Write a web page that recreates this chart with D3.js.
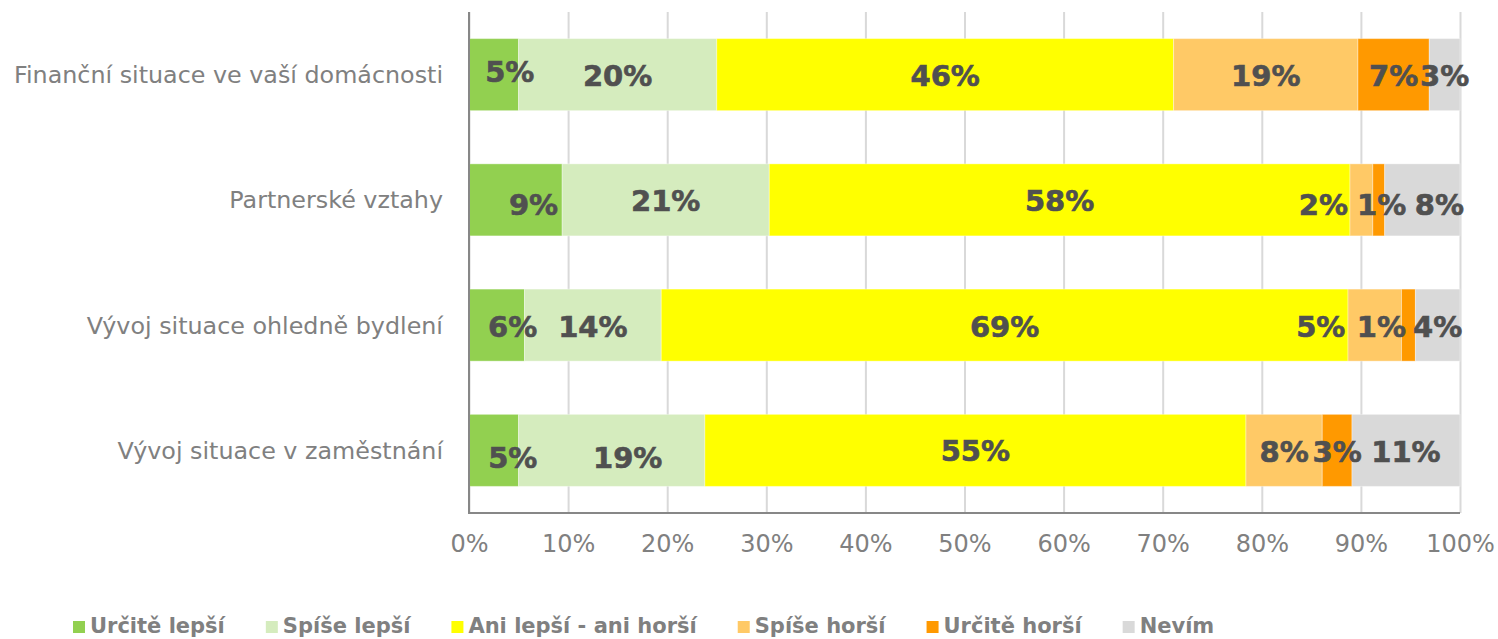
<!DOCTYPE html>
<html><head><meta charset="utf-8">
<script src="https://cdn.jsdelivr.net/npm/d3@7"></script>
<style>body{margin:0;background:#fff}svg{display:block}</style>
</head><body><svg id="c" width="1498" height="639"></svg>
<script>
const categories = ["Finanční situace ve vaší domácnosti","Partnerské vztahy","Vývoj situace ohledně bydlení","Vývoj situace v zaměstnání"];
const seriesNames = ["Určitě lepší","Spíše lepší","Ani lepší - ani horší","Spíše horší","Určitě horší","Nevím"];
const seriesColors = ["#92d050","#d5ecbe","#ffff00","#ffc966","#ff9900","#d9d9d9"];
const urciteLepsi = [5.0, 9.4, 5.6, 5.0];
const spiseLepsi  = [20.0, 20.9, 13.8, 18.8];
const aniLepsiAniHorsi = [46.1, 58.6, 69.3, 54.6];
const spiseHorsi  = [18.6, 2.3, 5.4, 7.7];
const urciteHorsi = [7.2, 1.2, 1.4, 3.0];
const nevim       = [3.1, 7.6, 4.5, 10.9];
const labelTexts = [
  ["5%","20%","46%","19%","7%","3%"],
  ["9%","21%","58%","2%","1%","8%"],
  ["6%","14%","69%","5%","1%","4%"],
  ["5%","19%","55%","8%","3%","11%"]
];
const tickValues = [0,10,20,30,40,50,60,70,80,90,100];
// label nudges (px) reproducing the reference's manual label placement
const labelNudge = [
  [[16,-4],[0,0],[0,0],[0,0],[0,0],[0,0]],
  [[18,4],[0,0],[0,0],[-38,4],[3,4],[17,4]],
  [[16,1],[0,1],[0,1],[-54,1],[-27,1],[0,1]],
  [[19,7],[16,7],[0,0],[0,1],[0,1],[0,1]]
];

(function(){
const seriesValues = [urciteLepsi, spiseLepsi, aniLepsiAniHorsi, spiseHorsi, urciteHorsi, nevim];
const rows = categories.map((c,i)=>{
  const r = {cat:c};
  seriesNames.forEach((s,j)=> r[s] = seriesValues[j][i]);
  return r;
});
const stack = d3.stack().keys(seriesNames)(rows);

const svg = d3.select("#c");
const pL = 469, pR = 1460, pT = 12, pB = 513;
const x = d3.scaleLinear().domain([0,100]).range([pL,pR]);
const y = d3.scaleBand().domain(categories).range([pT,pB]).paddingInner(0.425).paddingOuter(0.2125);
const color = d3.scaleOrdinal().domain(seriesNames).range(seriesColors);
const FONT = "DejaVu Sans, Verdana, sans-serif";

// grid + x axis
const xAxis = d3.axisBottom(x).tickValues(tickValues).tickSize(-(pB-pT)).tickPadding(22).tickFormat(d=>d+"%");
const gx = svg.append("g").attr("transform",`translate(0,${pB})`).call(xAxis);
gx.select(".domain").remove();
gx.selectAll(".tick line").attr("stroke","#d9d9d9").attr("stroke-width",2);
gx.selectAll(".tick text").attr("font-family",FONT).attr("font-size",24).attr("fill","#808080").attr("dy","0.71em");

// bars
const layers = svg.append("g").selectAll("g").data(stack).join("g").attr("fill",d=>color(d.key));
layers.selectAll("rect").data(d=>d).join("rect")
  .attr("x",d=>x(d[0])).attr("width",d=>x(d[1])-x(d[0]))
  .attr("y",d=>y(d.data.cat)).attr("height",y.bandwidth())
  .attr("stroke","#ffffff").attr("stroke-opacity",0.35).attr("stroke-width",1);

// axis lines
svg.append("line").attr("x1",pL).attr("x2",pL).attr("y1",pT).attr("y2",pB+1).attr("stroke","#878787").attr("stroke-width",2);
svg.append("line").attr("x1",pL).attr("x2",pR).attr("y1",pB).attr("y2",pB).attr("stroke","#878787").attr("stroke-width",2);

// category labels
const yAxis = d3.axisLeft(y).tickSize(0).tickPadding(26);
const gy = svg.append("g").attr("transform",`translate(${pL},0)`).call(yAxis);
gy.select(".domain").remove();
gy.selectAll(".tick text").attr("font-family",FONT).attr("font-size",23.8).attr("fill","#808080").attr("dy","0.36em");

// data labels
stack.forEach((layer,j)=>{
  layer.forEach((d,i)=>{
    const n = labelNudge[i][j];
    svg.append("text")
      .attr("x", (x(d[0])+x(d[1]))/2 + n[0])
      .attr("y", y(d.data.cat)+y.bandwidth()/2 + 11 + n[1])
      .attr("text-anchor","middle")
      .attr("font-family",FONT).attr("font-weight","bold")
      .attr("font-size",29).attr("fill","#505050")
      .attr("stroke","#505050").attr("stroke-width",0.6)
      .text(labelTexts[i][j]);
  });
});

// legend
const lg = svg.append("g");
let lx = 73;
seriesNames.forEach((s,j)=>{
  lg.append("rect").attr("x",lx).attr("y",621).attr("width",12).attr("height",12).attr("fill",seriesColors[j]);
  const t = lg.append("text").attr("x",lx+17).attr("y",633)
    .attr("font-family",FONT).attr("font-weight","bold")
    .attr("font-size",21).attr("fill","#808080").text(s);
  lx += 17 + t.node().getComputedTextLength() + 41;
});
})();
</script></body></html>
